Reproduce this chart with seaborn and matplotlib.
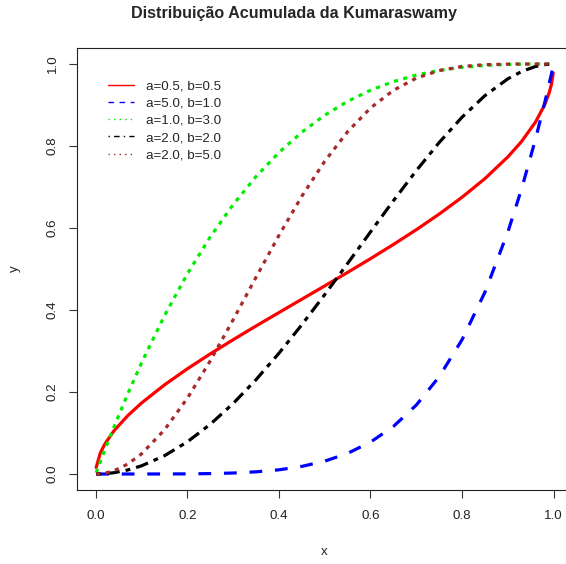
import numpy as np
import pandas as pd
import matplotlib
matplotlib.use("Agg")
import matplotlib.pyplot as plt
from matplotlib.lines import Line2D
import seaborn as sns

# --- dados ---
x_vals = [0.001, 0.01, 0.02, 0.04, 0.07, 0.1, 0.15, 0.2, 0.25, 0.3, 0.35, 0.4,
          0.45, 0.5, 0.55, 0.6, 0.65, 0.7, 0.75, 0.8, 0.85, 0.9, 0.93, 0.96,
          0.98, 0.99, 0.995, 0.999]

y_a05_b05 = [0.0159, 0.0513, 0.0734, 0.1056, 0.1424, 0.1731, 0.2173, 0.2565,
             0.2929, 0.3275, 0.3610, 0.3937, 0.4263, 0.4588, 0.4917, 0.5252,
             0.5598, 0.5958, 0.6340, 0.6751, 0.7206, 0.7735, 0.8112, 0.8579,
             0.8997, 0.9292, 0.9500, 0.9776]
y_a5_b1 = [0.0, 0.0, 0.0, 0.0, 0.0, 0.00001, 0.00008, 0.0003, 0.0010, 0.0024,
           0.0053, 0.0102, 0.0185, 0.0313, 0.0503, 0.0778, 0.1160, 0.1681,
           0.2373, 0.3277, 0.4437, 0.5905, 0.6957, 0.8154, 0.9039, 0.9510,
           0.9753, 0.9950]
y_a1_b3 = [0.0030, 0.0297, 0.0588, 0.1153, 0.1956, 0.2710, 0.3859, 0.4880,
           0.5781, 0.6570, 0.7254, 0.7840, 0.8336, 0.8750, 0.9089, 0.9360,
           0.9571, 0.9730, 0.9844, 0.9920, 0.9966, 0.9990, 0.9997, 0.9999,
           1.0, 1.0, 1.0, 1.0]
y_a2_b2 = [0.0, 0.0002, 0.0008, 0.0032, 0.0098, 0.0199, 0.0445, 0.0784,
           0.1211, 0.1719, 0.2300, 0.2944, 0.3640, 0.4375, 0.5135, 0.5904,
           0.6665, 0.7399, 0.8086, 0.8704, 0.9230, 0.9639, 0.9817, 0.9939,
           0.9984, 0.9996, 0.9999, 1.0]
y_a2_b5 = [0.0, 0.0005, 0.0020, 0.0080, 0.0243, 0.0490, 0.1075, 0.1846,
           0.2758, 0.3760, 0.4797, 0.5818, 0.6774, 0.7627, 0.8349, 0.8926,
           0.9358, 0.9655, 0.9840, 0.9940, 0.9984, 0.9998, 1.0, 1.0,
           1.0, 1.0, 1.0, 1.0]

legend_labels = ["a=0.5, b=0.5", "a=5.0, b=1.0", "a=1.0, b=3.0",
                 "a=2.0, b=2.0", "a=2.0, b=5.0"]
series = [y_a05_b05, y_a5_b1, y_a1_b3, y_a2_b2, y_a2_b5]
tick_vals = [0.0, 0.2, 0.4, 0.6, 0.8, 1.0]
tick_labels = ["0.0", "0.2", "0.4", "0.6", "0.8", "1.0"]

cores = ["#FF0000", "#0000FF", "#00EE00", "#000000", "#A52A2A"]
# padroes de traco (em unidades da espessura)
tracos_curva = ["", (4, 4), (1.3, 1.7), (1.5, 1.9, 4, 1.9), (1.3, 1.7)]
tracos_legenda = ["", (4, 4), (1, 3), (1, 3, 4, 3), (1, 3)]

# --- tabela longa para o seaborn ---
df = pd.concat([
    pd.DataFrame({"x": x_vals, "y": ys, "curva": lab})
    for lab, ys in zip(legend_labels, series)
], ignore_index=True)

sns.set_style("white")
plt.rcParams['font.family'] = ['Liberation Sans', 'DejaVu Sans']

fig = plt.figure(figsize=(5.66, 5.64), dpi=100)
ax = fig.add_axes([77.4 / 566, (564 - 490.4) / 564, 494.6 / 566, 442.8 / 564])

sns.lineplot(data=df, x="x", y="y", hue="curva", style="curva",
             palette=dict(zip(legend_labels, cores)),
             dashes=dict(zip(legend_labels, tracos_curva)),
             linewidth=2.3, legend=False, errorbar=None, ax=ax)

ax.set_xlim(-0.04, 1.04)
ax.set_ylim(-0.04, 1.04)
ax.set_xticks(tick_vals)
ax.set_xticklabels(tick_labels)
ax.set_yticks(tick_vals)
ax.set_yticklabels(tick_labels, rotation=90, va="center")
ax.tick_params(axis="both", direction="out", length=5.8, width=0.8,
               color="#333333", labelsize=9.6, labelcolor="#222222",
               bottom=True, left=True)
ax.tick_params(axis="x", pad=8.5)
ax.tick_params(axis="y", pad=7.5)

for s in ax.spines.values():
    s.set_color("#222222")
    s.set_linewidth(0.8)

ax.set_xlabel("x", fontsize=9.6)
ax.set_ylabel("y", fontsize=9.6)
ax.xaxis.set_label_coords(0.5, -0.125)
ax.yaxis.set_label_coords(-0.115, 0.5)

ax.set_title("Distribuição Acumulada da Kumaraswamy", fontsize=11.6,
             fontweight="bold", x=0.437, y=1.078, va="center", pad=0)

handles = [Line2D([0], [0], color=c, lw=1.0, dashes=d) if d else
           Line2D([0], [0], color=c, lw=1.0)
           for c, d in zip(cores, tracos_legenda)]
ax.legend(handles, legend_labels, loc="upper left",
          bbox_to_anchor=(0.062, 0.926), frameon=False, fontsize=9.6,
          handlelength=1.95, handletextpad=0.93, labelspacing=0.36,
          borderpad=0, borderaxespad=0)

fig.savefig("out.png", dpi=100)
